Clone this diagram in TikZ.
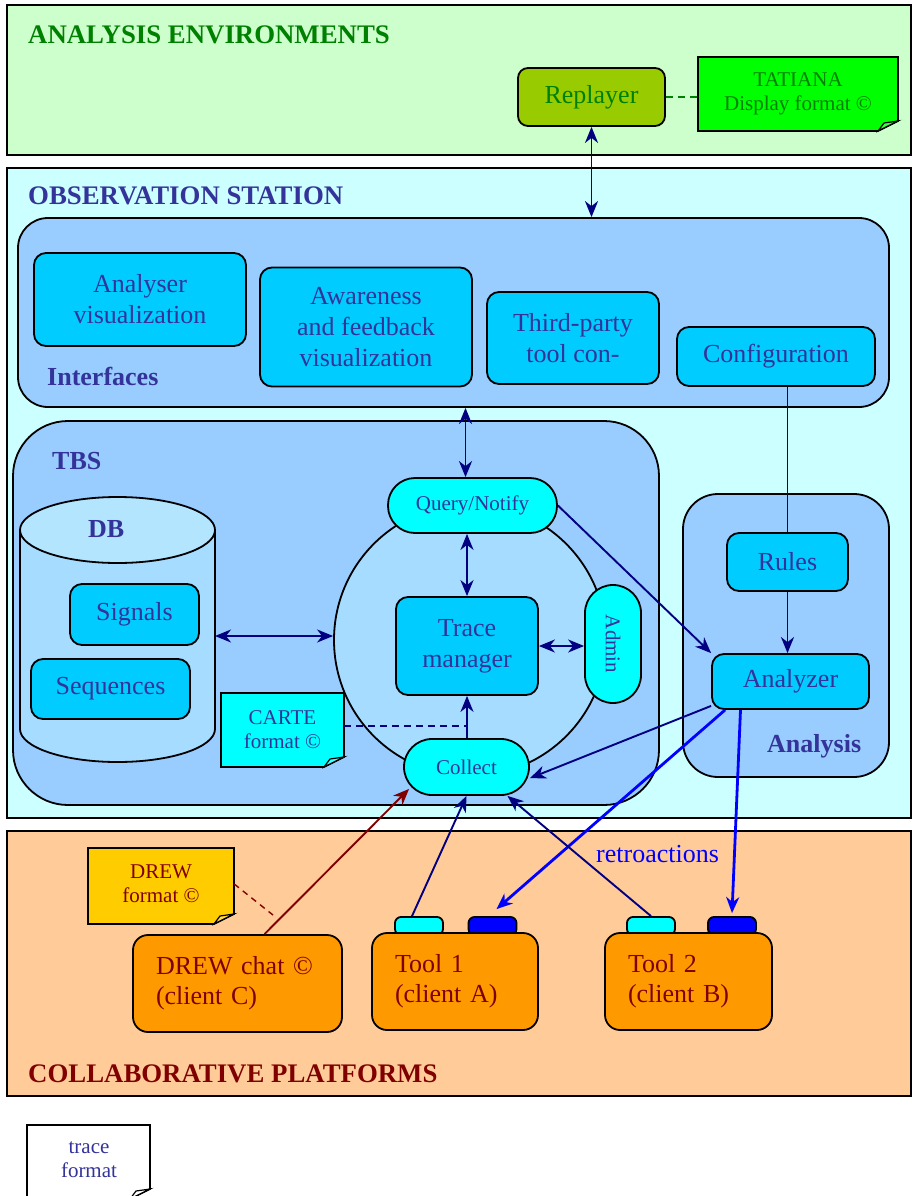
\documentclass[tikz,border=0pt]{standalone}
\usepackage{fontspec}
\setmainfont{Liberation Serif}
\usetikzlibrary{arrows.meta}
\definecolor{envfill}{HTML}{CCFFCC}
\definecolor{envtext}{HTML}{008000}
\definecolor{repfill}{HTML}{99CC00}
\definecolor{tatfill}{HTML}{00FF00}
\definecolor{obsfill}{HTML}{CCFFFF}
\definecolor{txt}{HTML}{333399}
\definecolor{contfill}{HTML}{99CCFF}
\definecolor{boxfill}{HTML}{00CCFF}
\definecolor{pillfill}{HTML}{00FFFF}
\definecolor{ringfill}{HTML}{A6DCFF}
\definecolor{dbtop}{HTML}{B3E5FF}
\definecolor{navyline}{HTML}{000080}
\definecolor{colfill}{HTML}{FFCC99}
\definecolor{toolfill}{HTML}{FF9900}
\definecolor{redtxt}{HTML}{800000}
\definecolor{drewfill}{HTML}{FFCC00}
\definecolor{retro}{HTML}{0000FF}
\newcommand\fA{\fontsize{26}{31}\selectfont}
\newcommand\fT{\fontsize{26.8}{31}\selectfont}
\newcommand\fB{\fontsize{21}{24}\selectfont}
\newcommand\notepath[5]{%
  \filldraw[fill=#5,draw=black,line width=1.6pt] (#1,#2) -- (#3,#2) -- (#3,{#4-10}) -- ({#3-20},#4) -- (#1,#4) -- cycle;
  \filldraw[fill=#5!75!white,draw=black,line width=1.2pt] ({#3-20},#4) .. controls ({#3-17},{#4-4}) .. ({#3-14},{#4-8}) -- (#3,{#4-10}) -- cycle;}
\begin{document}
\begin{tikzpicture}[x=1pt,y=-1pt,
  outl/.style={draw=black,line width=1.8pt},
  cont/.style={outl,fill=contfill,inner sep=0pt},
  rbox/.style={outl,fill=boxfill,rounded corners=12pt,text=txt,font=\fA,align=center,inner sep=0pt},
  pill/.style={outl,fill=pillfill,text=txt,font=\fB,align=center,inner sep=0pt},
  ttl/.style={font=\fT\bfseries,anchor=base west,inner sep=0pt},
  notetext/.style={font=\fB,align=center,inner sep=0pt},
  tip/.style={-{Stealth[length=16pt,width=13pt,inset=5pt]}},
  dbl/.style={{Stealth[length=16pt,width=13pt,inset=5pt]}-{Stealth[length=16pt,width=13pt,inset=5pt]}},
  conn/.style={draw=navyline,line width=1.9pt},
  retroline/.style={draw=retro,line width=2.8pt},
  toolbox/.style={outl,fill=toolfill,rounded corners=15pt,text=redtxt,font=\fontsize{26}{30}\selectfont,align=left,inner xsep=23pt,inner ysep=0pt,minimum height=97pt},
  tabbox/.style={outl,rounded corners=6pt,minimum width=48pt,minimum height=18pt,inner sep=0pt},
]
\useasboundingbox (0,0) rectangle (912,1196);
\fill[white] (0,0) rectangle (912,1196);
% ---------- regions
\draw[outl,fill=envfill] (7,5) rectangle (911,155);
\node[ttl,text=envtext] at (28,44) {ANALYSIS ENVIRONMENTS};
\draw[outl,fill=obsfill] (7,168) rectangle (911,818);
\node[ttl,text=txt] at (28,204) {OBSERVATION STATION};
\draw[outl,fill=colfill] (7,831) rectangle (911,1096);
\node[ttl,text=redtxt] at (28,1082) {COLLABORATIVE PLATFORMS};
% ---------- analysis environments
\node[outl,fill=repfill,rounded corners=10pt,text=envtext,font=\fA,minimum width=147pt,minimum height=58pt,inner sep=0pt] (rep) at (591.5,97) {Replayer};
\notepath{698}{57}{898}{131}{tatfill}
\node[notetext,text=envtext,minimum width=200pt,minimum height=74pt] (tat) at (798,94) {TATIANA\\Display format ©};
% ---------- interfaces
\node[cont,rounded corners=30pt,minimum width=871pt,minimum height=189pt] (intf) at (453.5,312.5) {};
\node[ttl,text=txt,font=\fA\bfseries] at (47,385) {Interfaces};
\node[rbox,minimum width=212pt,minimum height=93pt] (avis) at (140,299.5) {Analyser\\visualization};
\node[rbox,minimum width=212pt,minimum height=119pt] (awar) at (366,327) {Awareness\\and feedback\\visualization};
\node[rbox,minimum width=172pt,minimum height=92pt] (third) at (573,338) {Third-party\\tool con-};
\node[rbox,minimum width=198pt,minimum height=59pt] (cfg) at (776,356.5) {Configuration};
% ---------- TBS
\node[cont,rounded corners=55pt,minimum width=646pt,minimum height=384pt] (tbs) at (336,613) {};
\node[ttl,text=txt,font=\fA\bfseries] at (52,469) {TBS};
% DB cylinder
\fill[ringfill] (20,530) -- (20,729) arc (180:0:97.5 and 33) -- (215,530) -- cycle;
\draw[line width=1.8pt] (20,530) -- (20,729) arc (180:0:97.5 and 33) -- (215,530);
\draw[line width=1.8pt,fill=dbtop] (117.5,530) ellipse (97.5 and 33);
\node[ttl,text=txt,font=\fA\bfseries] at (88,537) {DB};
\coordinate (dbr) at (215,636);
\node[rbox,minimum width=129pt,minimum height=61pt] (sig) at (134.5,614.5) {Signals};
\node[rbox,minimum width=159pt,minimum height=60pt] (seq) at (110.5,689) {Sequences};
% ring
\node[outl,circle,fill=ringfill,minimum size=272pt,inner sep=0pt] (ring) at (470,640) {};
\node[rbox,minimum width=142pt,minimum height=98pt] (tm) at (467,646) {Trace\\manager};
\node[pill,rounded corners=27pt,minimum width=169pt,minimum height=55pt] (qn) at (472.5,505.5) {Query/Notify};
\node[pill,rounded corners=28pt,minimum width=56pt,minimum height=118pt] (adm) at (613,644) {};
\node[text=txt,font=\fB,rotate=-90,inner sep=0pt] at (adm.center) {Admin};
\node[pill,rounded corners=28pt,minimum width=125pt,minimum height=56pt] (col) at (466.5,767) {Collect};
% CARTE
\notepath{221}{693}{344}{767}{pillfill}
\node[notetext,text=txt,minimum width=123pt,minimum height=74pt] (carte) at (282.5,730) {CARTE\\format ©};
% ---------- analysis
\node[cont,rounded corners=35pt,minimum width=206pt,minimum height=283pt] (anl) at (786,635.5) {};
\node[ttl,text=txt,font=\fA\bfseries] at (767,752) {Analysis};
\node[rbox,minimum width=121pt,minimum height=58pt] (rules) at (787.5,562) {Rules};
\node[rbox,minimum width=157pt,minimum height=55pt] (ana) at (790.5,681.5) {Analyzer};
% ---------- collaborative platforms
\notepath{88}{848}{234}{924}{drewfill}
\node[notetext,text=redtxt,minimum width=146pt,minimum height=76pt] (dnote) at (161,884) {DREW\\format ©};
\node[tabbox,fill=pillfill] (t1c) at (419,926) {};
\node[tabbox,fill=retro] (t1b) at (492.5,926) {};
\node[tabbox,fill=pillfill] (t2c) at (651,926) {};
\node[tabbox,fill=retro] (t2b) at (732,926) {};
\node[toolbox,text width=163pt] (drew) at (237.5,983.5) {DREW chat ©\\(client C)};
\node[toolbox,text width=120pt] (tool1) at (455,981.5) {Tool 1\\(client A)};
\node[toolbox,text width=121pt] (tool2) at (688.5,981.5) {Tool 2\\(client B)};
\node[font=\fA,text=retro,anchor=base west,inner sep=0pt] at (596,862) {retroactions};
% trace format note
\notepath{27}{1125}{150}{1199}{white}
\node[notetext,text=txt,minimum width=123pt,minimum height=60pt] (trn) at (89,1160) {trace\\format};
% ---------- connectors
\draw[dbl,conn] (rep.south) -- (rep.south |- intf.north);
\draw[conn,draw=envtext,dash pattern=on 7pt off 5pt] (rep.east) -- (rep.east -| tat.west);
\path (qn.north) ++(-7,0) coordinate (qtop);
\draw[dbl,conn] (intf.south -| qtop) -- (qtop);
\draw[dbl,conn] (qn.south -| tm.north) -- (tm.north);
\draw[dbl,conn] (tm.east) -- (tm.east -| adm.west);
\draw[tip,conn] (col.north -| tm.south) -- (tm.south);
\draw[conn,dash pattern=on 7pt off 5pt] (carte.east |- 0,726) -- (tm.south |- 0,726);
\draw[dbl,conn] (dbr) -- (dbr -| ring.west);
\draw[tip,conn] (qn.east) -- (ana.north west);
\draw[conn] (rules.north |- cfg.south) -- (rules.north);
\draw[tip,conn] (rules.south) -- (rules.south |- ana.north);
\draw[tip,conn] ([yshift=4pt]ana.south west) -- (col.-10);
\draw[tip,retroline] ([xshift=14pt]ana.south west) -- ([xshift=4pt,yshift=7pt]t1b.north);
\draw[tip,retroline] ([xshift=-50pt]ana.south) -- ([yshift=3pt]t2b.north);
\draw[tip,conn] ([xshift=-7pt]t1c.north) -- (col.south);
\draw[tip,conn] (t2c.north) -- ([xshift=41pt]col.south);
\draw[tip,conn,draw=redtxt] ([xshift=27pt]drew.north) -- ([xshift=6pt,yshift=7pt]col.south west);
\coordinate (dend) at (273,915);
\draw[draw=redtxt,line width=1.4pt,dash pattern=on 6pt off 5pt] (dnote.east) -- (dend);
\end{tikzpicture}
\end{document}
